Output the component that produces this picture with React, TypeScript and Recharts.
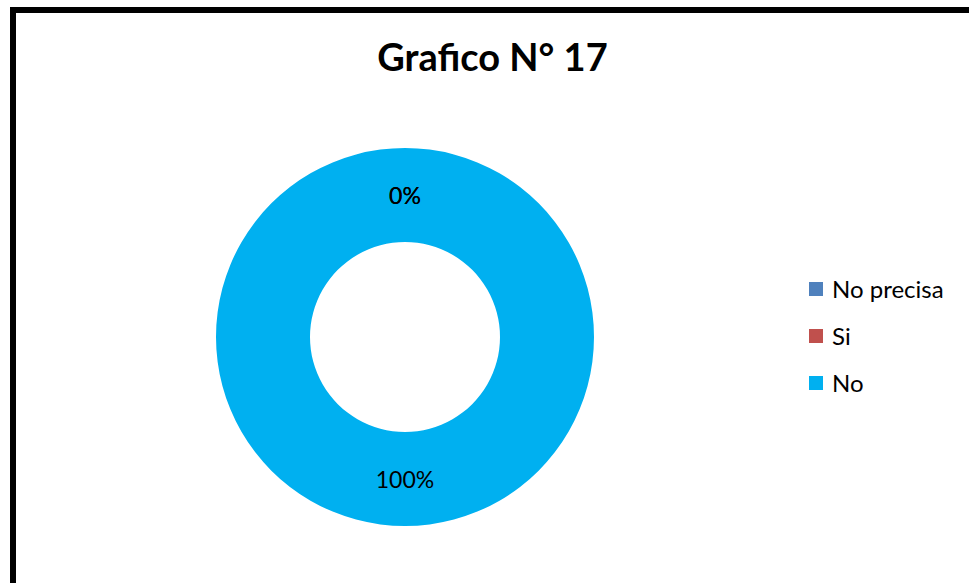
import React from "react";
import { PieChart, Pie, Cell, Legend } from "recharts";

const categories = ["No precisa", "Si", "No"];
const values = [0, 0, 100];
const colors = ["#4F81BD", "#C0504D", "#00B0F0"];
const title = "Grafico N° 17";

const data = categories.map((name, i) => ({ name, value: values[i] }));
const total = values.reduce((a, b) => a + b, 0);

const RAD = Math.PI / 180;
const renderLabel = (props: any) => {
  const { cx, cy, midAngle, innerRadius, outerRadius, value, index } = props;
  const r = (innerRadius + outerRadius) / 2;
  const x = cx + r * Math.cos(-midAngle * RAD);
  const y = cy + r * Math.sin(-midAngle * RAD);
  const pct = Math.round((value / total) * 100) + "%";
  return (
    <text
      key={"l" + index}
      x={x}
      y={y}
      fill="#000"
      fontSize={23}
      fontFamily="Lato, sans-serif"
      textAnchor="middle"
      dominantBaseline="central"
    >
      {pct}
    </text>
  );
};

const renderLegend = (props: any) => {
  const payload = [...(props.payload || [])].sort(
    (a: any, b: any) => categories.indexOf(a.value) - categories.indexOf(b.value)
  );
  return (
    <div style={{ fontFamily: "Lato, sans-serif", fontSize: 24, color: "#000" }}>
      {payload.map((p: any, i: number) => (
        <div key={i} style={{ display: "flex", alignItems: "center", height: 47 }}>
          <span style={{ display: "inline-block", width: 14, height: 14, background: p.color, marginRight: 9 }} />
          <span>{p.value}</span>
        </div>
      ))}
    </div>
  );
};

export default function App() {
  return (
    <div style={{ position: "fixed", left: 0, top: 0, width: 969, height: 583, overflow: "hidden", background: "#fff" }}>
      <div style={{ position: "absolute", left: 10, top: 7, width: 1100, height: 700, border: "6px solid #000", boxSizing: "border-box" }} />
      <div style={{ position: "absolute", left: 0, top: 32, width: 985, textAlign: "center", fontFamily: "Lato, sans-serif", fontWeight: 700, fontSize: 38, lineHeight: "48px", color: "#000" }}>
        {title}
      </div>
      <div style={{ position: "absolute", left: 0, top: 0 }}>
        <PieChart width={969} height={583} margin={{ top: 0, right: 0, bottom: 0, left: 0 }}>
          <Pie
            data={data}
            dataKey="value"
            nameKey="name"
            cx={405}
            cy={337}
            innerRadius={95}
            outerRadius={189}
            startAngle={90}
            endAngle={-270}
            stroke="none"
            label={renderLabel}
            labelLine={false}
            isAnimationActive={false}
          >
            {data.map((d, i) => (
              <Cell key={d.name} fill={colors[i]} />
            ))}
          </Pie>
          <Legend
            layout="vertical"
            content={renderLegend}
            wrapperStyle={{ left: 809, top: 265, width: 160 }}
          />
        </PieChart>
      </div>
    </div>
  );
}
